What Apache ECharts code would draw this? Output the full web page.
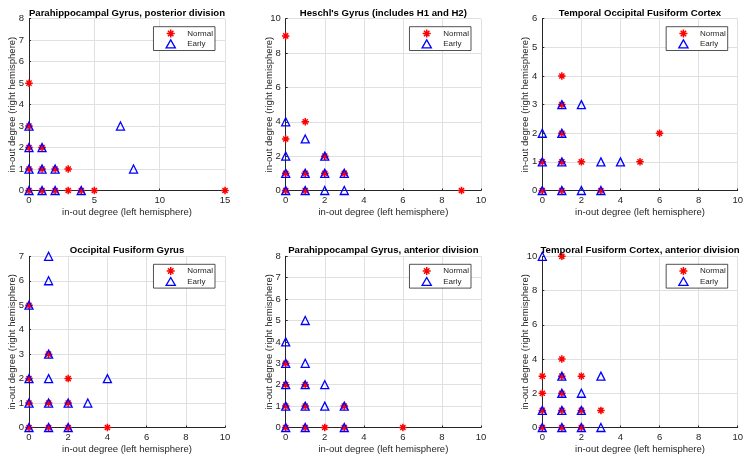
<!DOCTYPE html>
<html>
<head>
<meta charset="utf-8">
<script src="https://cdn.jsdelivr.net/npm/echarts@6/dist/echarts.min.js"></script>
<style>
html,body{margin:0;padding:0;background:#fff;}
#c{width:750px;height:462px;}
</style>
</head>
<body>
<div id="c"></div>
<script>
// ---- data ----
const titles = [
  'Parahippocampal Gyrus, posterior division',
  "Heschl's Gyrus (includes H1 and H2)",
  'Temporal Occipital Fusiform Cortex',
  'Occipital Fusiform Gyrus',
  'Parahippocampal Gyrus, anterior division',
  'Temporal Fusiform Cortex, anterior division'
];
const seriesNames = ['Normal', 'Early'];
const xLabel = 'in-out degree (left hemisphere)';
const yLabel = 'in-out degree (right hemisphere)';

const xMax = [15, 10, 10, 10, 10, 10];
const xStep = [5, 2, 2, 2, 2, 2];
const yMax = [8, 10, 6, 7, 8, 10];
const yStep = [1, 2, 1, 1, 1, 2];

const p1Normal = [[0,5],[0,3],[0,2],[0,1],[0,0],[1,2],[1,1],[1,0],[2,1],[2,0],[3,1],[3,0],[4,0],[5,0],[15,0]];
const p1Early  = [[0,3],[0,2],[0,1],[0,0],[1,2],[1,1],[1,0],[2,1],[2,0],[4,0],[7,3],[8,1]];

const p2Normal = [[0,9],[0,3],[0,1],[0,0],[1,4],[1,1],[1,0],[2,2],[2,1],[3,1],[9,0]];
const p2Early  = [[0,4],[0,2],[0,1],[0,0],[1,3],[1,1],[1,0],[2,2],[2,1],[2,0],[3,1],[3,0]];

const p3Normal = [[0,1],[0,0],[1,4],[1,3],[1,2],[1,1],[1,0],[2,1],[3,0],[5,1],[6,2]];
const p3Early  = [[0,2],[0,1],[0,0],[1,3],[1,2],[1,1],[1,0],[2,3],[2,0],[3,1],[3,0],[4,1]];

const p4Normal = [[0,5],[0,2],[0,1],[0,0],[1,3],[1,1],[1,0],[2,2],[2,1],[2,0],[4,0]];
const p4Early  = [[0,5],[0,2],[0,1],[0,0],[1,7],[1,6],[1,3],[1,2],[1,1],[1,0],[2,1],[2,0],[3,1],[4,2]];

const p5Normal = [[0,3],[0,2],[0,1],[0,0],[1,2],[1,1],[1,0],[2,0],[3,1],[3,0],[6,0]];
const p5Early  = [[0,4],[0,3],[0,2],[0,1],[0,0],[1,5],[1,3],[1,2],[1,1],[1,0],[2,2],[2,1],[3,1],[3,0]];

const p6Normal = [[1,10],[1,4],[0,3],[0,2],[0,1],[0,0],[1,3],[1,2],[1,1],[1,0],[2,3],[2,1],[2,0],[3,1]];
const p6Early  = [[0,10],[0,1],[0,0],[1,3],[1,2],[1,1],[1,0],[2,2],[2,1],[2,0],[3,3],[3,0]];

const normalData = [p1Normal, p2Normal, p3Normal, p4Normal, p5Normal, p6Normal];
const earlyData  = [p1Early, p2Early, p3Early, p4Early, p5Early, p6Early];

// ---- layout / style ----
const cols = [{left:29, width:196}, {left:285.7, width:195.3}, {left:542.3, width:195.4}];
const rows = [{top:18.7, height:171.8}, {top:256.3, height:171.2}];
const FONT = '"Liberation Sans", Arial, Helvetica, sans-serif';
const axisColor = '#262626';
const gridColor = '#e0e0e0';
const RED = '#ff0000', BLUE = '#0000ff';
const starPath = 'path://M5,0L5,10M0,5L10,5M1.6,1.6L8.4,8.4M1.6,8.4L8.4,1.6';
const triPath = 'path://M5,0L10,8.7L0,8.7Z';

const option = {
  animation: false,
  backgroundColor: '#fff',
  title: [], grid: [], xAxis: [], yAxis: [], series: [], legend: []
};

for (let i = 0; i < 6; i++) {
  const c = cols[i % 3], r = rows[Math.floor(i / 3)];
  option.grid.push({left: c.left, top: r.top, width: c.width, height: r.height, containLabel: false});
  option.title.push({
    text: titles[i], left: c.left + c.width / 2, top: r.top - 10.5, textAlign: 'center', padding: 0,
    textStyle: {fontFamily: FONT, fontSize: 9.6, fontWeight: 'bold', color: '#000'}
  });
  const axisCommon = {
    axisLine: {show: true, onZero: false, lineStyle: {color: axisColor, width: 1}},
    axisTick: {show: true, inside: true, length: 2, lineStyle: {color: axisColor}},
    axisLabel: {fontFamily: FONT, fontSize: 9.5, color: axisColor, margin: 5, showMinLabel: true, showMaxLabel: true},
    splitLine: {show: true, lineStyle: {color: gridColor, width: 1}},
    nameLocation: 'middle',
    nameMoveOverlap: false,
    nameTextStyle: {fontFamily: FONT, fontSize: 9.5, color: axisColor}
  };
  option.xAxis.push(Object.assign({}, axisCommon, {
    type: 'value', gridIndex: i, min: 0, max: xMax[i], interval: xStep[i],
    name: xLabel, nameGap: 16.5
  }));
  option.yAxis.push(Object.assign({}, axisCommon, {
    type: 'value', gridIndex: i, min: 0, max: yMax[i], interval: yStep[i],
    name: yLabel, nameGap: 11.5
  }));
  option.series.push({
    name: seriesNames[0], type: 'scatter', xAxisIndex: i, yAxisIndex: i, data: normalData[i],
    symbol: starPath, symbolSize: 7.5,
    itemStyle: {color: 'rgba(0,0,0,0)', borderColor: RED, borderWidth: 1.5, opacity: 1},
    emphasis: {disabled: true}, z: 2
  });
  option.series.push({
    name: seriesNames[1], type: 'scatter', xAxisIndex: i, yAxisIndex: i, data: earlyData[i],
    symbol: triPath, symbolSize: 8,
    itemStyle: {color: 'rgba(0,0,0,0)', borderColor: BLUE, borderWidth: 1.3, opacity: 1},
    emphasis: {disabled: true}, z: 3
  });
  option.legend.push({
    orient: 'vertical',
    right: 750 - (c.left + c.width - 10),
    top: r.top + 8,
    padding: [2, 2, 2, 12],
    itemGap: 1,
    itemWidth: 23, itemHeight: 8,
    symbolKeepAspect: true,
    borderColor: axisColor, borderWidth: 0.8,
    backgroundColor: '#fff',
    selectedMode: false,
    textStyle: {fontFamily: FONT, fontSize: 8, color: axisColor, lineHeight: 9},
    data: [
      {name: seriesNames[0], icon: starPath, itemStyle: {color: 'rgba(0,0,0,0)', borderColor: RED, borderWidth: 1.5}},
      {name: seriesNames[1], icon: triPath, itemStyle: {color: 'rgba(0,0,0,0)', borderColor: BLUE, borderWidth: 1.3}}
    ]
  });
}

const chart = echarts.init(document.getElementById('c'), null, {renderer: 'canvas'});
chart.setOption(option);
</script>
</body>
</html>
